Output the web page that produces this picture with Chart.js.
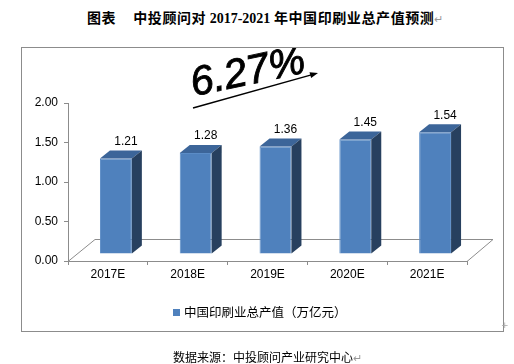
<!DOCTYPE html>
<html>
<head>
<meta charset="utf-8">
<script src="https://cdn.jsdelivr.net/npm/chart.js@4.4.1/dist/chart.umd.min.js"></script>
<style>
body{margin:0;width:514px;height:364px;background:#fff;position:relative;overflow:hidden}
#title{position:absolute;left:87px;top:7px;line-height:16px;font:bold 14px "Liberation Serif","Noto Sans CJK SC";color:#000;white-space:nowrap}
#title .cjk{font-family:"Noto Sans CJK SC";letter-spacing:0.6px}
.mark{color:#999;font-weight:normal;font-size:11px}
#box{position:absolute;left:21px;top:47px;width:481px;height:283px;border:1px solid #8c8c8c}
#legend{position:absolute;left:173px;top:302px;line-height:16px;font:12.5px "Noto Sans CJK SC";color:#000;white-space:nowrap}
#legend i{display:inline-block;width:7px;height:7px;background:#4f81bd;margin-right:4px;vertical-align:1px}
#source{position:absolute;left:173px;top:348px;line-height:15px;font:12px "Noto Sans CJK SC";color:#000;white-space:nowrap}
#plus{position:absolute;left:501px;top:320px;font:9px "DejaVu Sans";color:#aaa}
</style>
</head>
<body>
<div id="title"><span class="cjk">图表</span><span class="cjk" style="margin-left:17px">中投顾问对</span>&nbsp;2017-2021&nbsp;<span class="cjk">年中国印刷业总产值预测</span><span class="mark">↵</span></div>
<div id="box"><canvas id="chart1" width="481" height="283"></canvas></div>
<div id="legend"><i></i>中国印刷业总产值（万亿元）</div>
<div id="source">数据来源：中投顾问产业研究中心<span class="mark">↵</span></div>
<div id="plus">+</div>
<script>
const years = ["2017E", "2018E", "2019E", "2020E", "2021E"];
const output = [1.21, 1.28, 1.36, 1.45, 1.54];
const growth = "6.27%";

const shiftX = 8, shiftY = -7;   // bars sit a bit back in the 3D floor
const depthX = 10, depthY = 8;   // bar depth

const bars3d = {
    id: "bars3d",
    beforeDatasetsDraw(chart) {
        const ctx = chart.ctx, a = chart.chartArea;
        // floor outline
        ctx.save();
        ctx.strokeStyle = "#8c8c8c";
        ctx.lineWidth = 1;
        ctx.beginPath();
        ctx.moveTo(a.left, a.bottom + 0.5);
        ctx.lineTo(a.left + 27, a.bottom - 21.5);
        ctx.lineTo(a.right + 26, a.bottom - 21.5);
        ctx.lineTo(a.right, a.bottom + 0.5);
        ctx.stroke();
        ctx.restore();
        ctx.save();
        ctx.translate(shiftX, shiftY);
    },
    afterDatasetsDraw(chart) {
        const ctx = chart.ctx;
        chart.getDatasetMeta(0).data.forEach((bar, i) => {
            const x0 = bar.x - bar.width / 2, x1 = bar.x + bar.width / 2;
            const top = bar.y, base = bar.base;
            ctx.fillStyle = "#3c6599";
            ctx.beginPath();
            ctx.moveTo(x0, top);
            ctx.lineTo(x0 + depthX, top - depthY);
            ctx.lineTo(x1 + depthX, top - depthY);
            ctx.lineTo(x1, top);
            ctx.closePath();
            ctx.fill();
            ctx.fillStyle = "#27405f";
            ctx.beginPath();
            ctx.moveTo(x1, top);
            ctx.lineTo(x1 + depthX, top - depthY);
            ctx.lineTo(x1 + depthX, base - depthY);
            ctx.lineTo(x1, base);
            ctx.closePath();
            ctx.fill();
            ctx.fillStyle = "#000";
            ctx.font = "12px 'Liberation Sans'";
            ctx.textAlign = "center";
            ctx.textBaseline = "middle";
            ctx.fillText(output[i].toFixed(2), bar.x + 10, top - 17);
        });
        ctx.restore();
    },
    afterDraw(chart) {
        const ctx = chart.ctx;
        ctx.save();
        // trend arrow
        ctx.strokeStyle = "#000";
        ctx.fillStyle = "#000";
        ctx.lineWidth = 1.5;
        const sx = 171, sy = 60, ex = 296, ey = 25;
        const ang = Math.atan2(ey - sy, ex - sx);
        ctx.beginPath();
        ctx.moveTo(sx, sy);
        ctx.lineTo(ex - 6 * Math.cos(ang), ey - 6 * Math.sin(ang));
        ctx.stroke();
        ctx.beginPath();
        ctx.moveTo(ex, ey);
        ctx.lineTo(ex - 8 * Math.cos(ang) + 3 * Math.sin(ang), ey - 8 * Math.sin(ang) - 3 * Math.cos(ang));
        ctx.lineTo(ex - 8 * Math.cos(ang) - 3 * Math.sin(ang), ey - 8 * Math.sin(ang) + 3 * Math.cos(ang));
        ctx.closePath();
        ctx.fill();
        // growth rate
        ctx.translate(226, 25);
        ctx.rotate(-12 * Math.PI / 180);
        ctx.font = "italic 41px 'Liberation Sans'";
        ctx.textAlign = "center";
        ctx.textBaseline = "middle";
        ctx.lineWidth = 0.9;
        ctx.fillText(growth, 0, 0);
        ctx.strokeText(growth, 0, 0);
        ctx.restore();
    }
};

new Chart(document.getElementById("chart1"), {
    type: "bar",
    data: {
        labels: years,
        datasets: [{
            label: "中国印刷业总产值（万亿元）",
            data: output,
            backgroundColor: "#4f81bd",
            borderColor: "#5b8cc6",
            borderWidth: 1,
            barPercentage: 0.4,
            categoryPercentage: 1,
            clip: false
        }]
    },
    options: {
        responsive: false,
        animation: false,
        events: [],
        layout: { padding: { left: 0, top: 55, right: 36, bottom: 46 } },
        plugins: { legend: { display: false }, tooltip: { enabled: false } },
        scales: {
            x: {
                offset: true,
                afterFit: s => { s.height = 24; },
                grid: { offset: true, drawOnChartArea: false, tickLength: 4, color: "#8c8c8c" },
                border: { color: "#8c8c8c" },
                ticks: { color: "#000", maxRotation: 0, padding: 2, font: { family: "Liberation Sans", size: 12 } }
            },
            y: {
                min: 0,
                max: 2,
                afterFit: s => { s.width = 46; },
                grid: { drawOnChartArea: false, tickLength: 4, color: "#8c8c8c" },
                border: { color: "#8c8c8c" },
                ticks: {
                    stepSize: 0.5,
                    padding: 6,
                    color: "#000",
                    font: { family: "Liberation Sans", size: 12 },
                    callback: v => v.toFixed(2)
                }
            }
        }
    },
    plugins: [bars3d]
});
</script>
</body>
</html>
